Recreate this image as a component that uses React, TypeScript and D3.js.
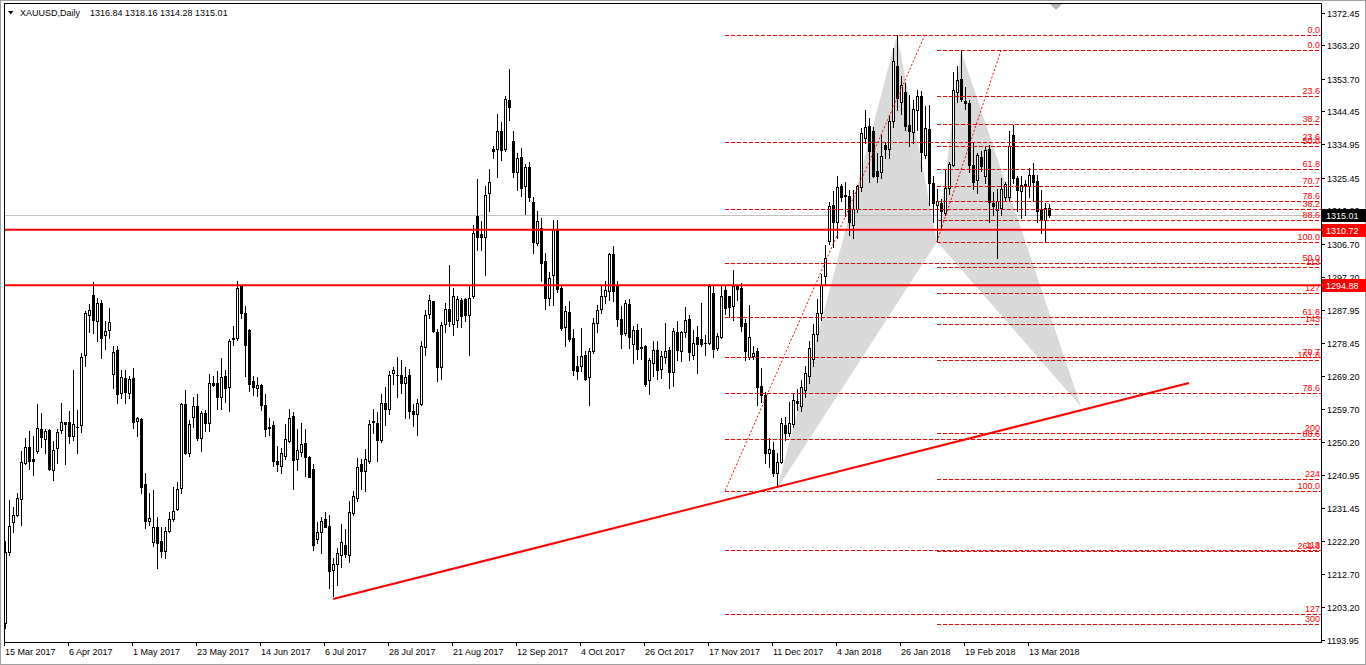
import React from "react";
import * as d3 from "d3";

// ---------- data ----------
const opens = [
1198.7,1219.1,1227.5,1229.4,1234.0,1244.3,1248.8,1245.5,1247.8,1253.9,1251.1,1253.7,1242.4,1248.5,1253.8,1255.9,1256.1,1252.0,1254.7,1255.1,
1275.0,1286.3,1292.2,1284.6,1289.8,1280.7,1282.1,1269.6,1276.5,1264.2,1268.5,1264.2,1268.5,1256.4,1256.8,1238.3,1227.9,1221.7,1226.2,1222.1,
1219.3,1225.1,1228.3,1231.2,1237.1,1261.1,1247.1,1257.4,1260.6,1251.4,1258.5,1255.6,1267.0,1267.0,1263.0,1269.1,1265.9,1279.8,1279.8,1294.8,
1287.0,1282.2,1267.6,1265.6,1266.5,1260.9,1254.7,1255.0,1244.8,1243.6,1246.2,1250.6,1257.8,1245.4,1247.5,1250.0,1245.9,1242.6,1222.6,1224.8,
1228.3,1226.5,1213.9,1215.5,1218.1,1221.1,1218.1,1230.0,1234.3,1244.1,1241.9,1244.9,1256.0,1255.8,1250.8,1261.4,1259.7,1269.8,1269.5,1269.4,
1267.1,1269.3,1259.2,1258.2,1261.2,1277.3,1286.6,1290.4,1281.7,1271.6,1284.0,1288.1,1284.0,1285.0,1290.7,1290.9,1286.5,1291.9,1314.6,1309.4,
1308.7,1321.1,1333.7,1333.7,1338.7,1333.7,1347.6,1335.9,1327.1,1331.3,1323.1,1328.5,1318.6,1306.9,1311.2,1301.7,1291.2,1297.9,1310.5,1294.1,
1282.9,1287.2,1279.9,1272.0,1271.8,1275.1,1268.7,1276.2,1284.1,1288.1,1291.9,1293.4,1303.7,1295.0,1285.2,1281.2,1289.5,1278.2,1282.2,1277.3,
1277.5,1267.8,1272.9,1276.5,1271.0,1274.6,1276.5,1270.1,1281.7,1276.2,1281.7,1285.2,1275.0,1280.1,1279.6,1278.4,1278.4,1292.7,1277.0,1280.3,
1293.6,1291.7,1289.0,1294.6,1294.1,1284.1,1274.4,1274.7,1276.2,1266.3,1263.7,1247.1,1247.9,1241.4,1244.7,1255.2,1252.8,1255.4,1262.0,1260.5,
1265.0,1269.0,1274.0,1281.0,1287.0,1297.5,1307.6,1317.8,1313.0,1323.0,1320.5,1320.4,1312.1,1316.5,1322.8,1336.8,1340.3,1338.7,1327.3,1327.0,
1334.8,1333.6,1341.5,1357.4,1347.0,1350.0,1340.6,1338.4,1344.8,1348.8,1332.0,1339.4,1324.1,1317.8,1318.3,1315.4,1322.5,1329.2,1349.8,1353.6,
1347.4,1346.9,1329.2,1324.9,1331.5,1326.0,1333.6,1318.3,1316.4,1316.8,1320.1,1320.0,1337.7,1325.4,1321.6,1323.8,1323.0,1326.3,1324.7,1316.7,
1313.5,1316.84];
const highs = [
1222.0,1233.8,1231.7,1235.7,1247.6,1251.4,1253.4,1252.0,1261.1,1258.5,1254.0,1254.0,1250.6,1254.0,1261.3,1256.1,1259.0,1270.8,1259.4,1275.6,
1287.7,1289.6,1295.7,1291.2,1290.8,1284.6,1288.4,1277.5,1277.7,1270.8,1270.8,1269.1,1271.3,1257.4,1257.0,1241.4,1235.7,1236.7,1228.9,1226.2,
1226.2,1230.5,1237.6,1239.0,1261.5,1265.1,1256.6,1263.0,1263.9,1259.2,1259.4,1269.6,1269.1,1270.4,1274.2,1270.8,1279.7,1283.4,1296.2,1295.0,
1288.9,1282.5,1269.1,1268.7,1266.8,1264.0,1257.2,1256.2,1249.1,1248.5,1255.5,1259.7,1258.7,1254.0,1255.8,1254.1,1246.4,1243.9,1227.6,1229.0,
1230.5,1229.5,1217.2,1220.1,1227.0,1225.6,1233.5,1236.4,1245.6,1245.4,1248.3,1256.5,1259.7,1258.7,1263.9,1265.9,1270.6,1271.6,1274.6,1273.6,
1271.6,1271.1,1261.2,1262.4,1279.0,1287.9,1292.1,1290.4,1282.5,1284.5,1289.9,1300.8,1294.1,1291.9,1291.4,1291.4,1294.7,1311.9,1325.2,1313.2,
1323.1,1328.0,1334.5,1343.6,1341.4,1348.8,1356.5,1338.9,1332.5,1334.0,1329.5,1330.0,1320.1,1316.0,1314.0,1304.0,1298.8,1313.5,1313.5,1295.0,
1289.0,1290.5,1282.4,1274.8,1282.7,1276.3,1277.0,1285.5,1289.3,1294.6,1296.0,1304.2,1306.1,1296.0,1289.0,1290.8,1290.9,1283.3,1283.9,1282.7,
1277.9,1274.1,1278.9,1278.9,1276.3,1284.1,1277.3,1282.7,1284.6,1282.0,1288.7,1286.5,1282.2,1283.2,1289.8,1280.8,1295.2,1294.6,1281.3,1294.7,
1294.6,1291.9,1299.3,1295.0,1295.5,1285.2,1289.3,1277.5,1277.0,1271.3,1264.4,1251.4,1250.4,1247.1,1257.1,1257.5,1261.8,1264.2,1265.3,1268.0,
1272.0,1279.0,1284.0,1291.0,1298.0,1306.4,1318.7,1321.6,1326.0,1323.8,1324.4,1322.1,1321.9,1323.5,1339.6,1344.8,1342.5,1339.9,1332.5,1337.7,
1335.8,1343.4,1362.4,1366.2,1354.3,1352.4,1349.1,1347.7,1350.5,1350.1,1346.0,1346.3,1325.9,1322.2,1319.4,1327.8,1330.1,1355.7,1357.4,1361.7,
1351.3,1347.5,1335.8,1332.5,1333.0,1334.6,1334.9,1321.3,1322.2,1325.4,1324.4,1338.7,1340.6,1325.9,1326.0,1324.9,1328.2,1329.6,1326.3,1322.1,
1318.3,1318.16];
const lows = [
1197.3,1218.2,1224.6,1229.1,1226.7,1244.0,1242.6,1241.0,1247.3,1249.0,1247.3,1242.2,1239.5,1244.4,1252.8,1244.0,1250.0,1250.9,1247.1,1253.0,
1271.8,1281.7,1281.3,1278.9,1274.2,1276.7,1280.0,1265.6,1261.5,1262.8,1261.3,1262.8,1254.2,1252.1,1235.9,1225.8,1226.7,1220.7,1214.4,1217.7,
1217.2,1224.6,1227.9,1230.8,1235.7,1246.8,1246.3,1254.7,1250.9,1247.8,1253.3,1253.3,1266.3,1259.6,1259.6,1261.8,1259.0,1277.9,1279.4,1285.5,
1269.1,1264.7,1263.7,1263.5,1259.4,1251.9,1252.3,1243.6,1242.1,1241.6,1245.4,1250.3,1236.9,1242.4,1246.4,1240.7,1240.2,1219.6,1221.6,1218.6,
1226.0,1208.7,1206.5,1209.7,1214.7,1217.6,1216.2,1229.5,1233.5,1236.9,1236.4,1244.4,1252.8,1244.9,1250.3,1255.2,1258.2,1266.7,1263.2,1264.2,
1257.2,1257.2,1254.8,1252.3,1260.7,1275.1,1285.5,1281.5,1267.6,1268.1,1281.5,1283.2,1280.8,1283.0,1283.0,1284.8,1275.1,1291.4,1304.8,1304.8,
1297.8,1315.9,1331.0,1325.6,1330.5,1333.0,1341.9,1325.8,1322.1,1320.3,1315.2,1318.8,1304.2,1306.4,1296.0,1288.1,1289.3,1289.3,1293.1,1282.2,
1277.7,1278.9,1269.4,1268.2,1270.5,1268.0,1260.8,1275.6,1281.5,1287.0,1289.8,1290.8,1290.3,1283.2,1277.0,1280.8,1277.0,1272.7,1273.9,1273.9,
1266.1,1263.9,1269.0,1268.2,1268.4,1272.7,1265.6,1266.1,1273.7,1273.2,1280.3,1273.7,1273.9,1269.9,1277.7,1275.1,1278.2,1274.4,1276.5,1279.8,
1286.8,1285.8,1285.1,1290.8,1282.0,1273.7,1273.9,1273.8,1260.9,1261.8,1244.3,1243.1,1240.6,1237.6,1244.2,1250.9,1252.0,1254.7,1259.4,1259.0,
1263.0,1267.0,1272.0,1279.0,1285.0,1295.0,1306.5,1305.9,1308.3,1319.0,1314.5,1309.2,1308.3,1315.6,1321.6,1335.5,1324.4,1325.7,1324.4,1325.5,
1331.1,1331.1,1340.0,1344.8,1343.5,1339.1,1334.4,1335.3,1339.1,1327.3,1331.0,1317.8,1313.0,1307.3,1310.7,1315.0,1321.0,1328.7,1347.0,1347.2,
1345.0,1327.0,1322.2,1321.1,1327.3,1324.0,1313.0,1315.0,1302.6,1315.0,1319.0,1319.0,1324.0,1316.0,1314.0,1314.9,1320.0,1319.0,1313.0,1309.7,
1307.4,1314.28];
const closes = [
1219.1,1226.5,1229.4,1234.3,1244.5,1249.0,1245.0,1245.0,1254.2,1251.6,1253.4,1242.6,1248.0,1253.1,1256.1,1255.4,1252.0,1255.5,1254.5,1274.6,
1287.0,1287.9,1284.9,1289.8,1280.0,1281.8,1284.4,1276.0,1263.9,1268.9,1264.5,1268.3,1256.1,1257.2,1237.4,1227.7,1228.6,1226.2,1221.5,1219.3,
1225.0,1228.3,1230.7,1236.9,1261.1,1247.1,1255.5,1260.6,1251.4,1258.5,1255.6,1267.0,1266.6,1263.0,1268.7,1265.7,1278.9,1279.6,1294.1,1287.0,
1278.0,1266.7,1265.9,1266.6,1260.9,1253.9,1254.3,1244.9,1243.9,1247.3,1251.1,1257.2,1245.2,1247.9,1249.8,1245.9,1240.4,1221.1,1224.6,1227.8,
1226.2,1213.7,1215.7,1218.8,1221.8,1218.4,1230.3,1235.0,1243.2,1241.9,1245.4,1255.5,1256.3,1250.8,1261.5,1259.7,1269.3,1270.8,1269.4,1267.1,
1268.9,1259.2,1258.2,1261.5,1277.5,1286.5,1290.7,1281.8,1271.6,1283.5,1288.1,1284.8,1291.9,1291.1,1286.2,1286.5,1291.4,1309.7,1308.7,1308.5,
1320.6,1324.3,1333.0,1338.7,1333.3,1347.8,1345.6,1327.1,1331.2,1322.6,1328.5,1320.1,1307.2,1313.1,1301.2,1291.4,1296.9,1310.7,1293.8,1282.7,
1287.6,1279.6,1270.8,1270.6,1274.8,1268.2,1276.3,1284.1,1287.9,1291.9,1293.6,1303.7,1293.4,1285.2,1281.0,1289.8,1280.3,1282.2,1276.7,1277.0,
1266.8,1273.7,1276.5,1270.8,1274.8,1276.2,1270.3,1281.9,1276.5,1281.5,1285.1,1275.8,1278.6,1278.1,1278.1,1278.5,1294.6,1276.7,1280.5,1291.9,
1288.4,1288.7,1294.6,1293.8,1283.4,1276.3,1280.1,1275.6,1265.9,1263.7,1247.1,1248.2,1241.4,1244.5,1255.6,1252.8,1255.6,1262.3,1261.5,1266.0,
1270.0,1277.0,1281.0,1287.0,1295.0,1302.6,1317.5,1313.0,1322.8,1320.0,1320.2,1312.8,1316.5,1323.0,1338.2,1339.9,1333.0,1325.9,1326.0,1331.7,
1333.6,1341.5,1358.6,1348.2,1351.9,1340.1,1338.7,1345.0,1348.8,1332.7,1339.6,1324.1,1318.3,1318.8,1315.9,1322.5,1329.4,1350.5,1353.4,1347.9,
1346.7,1329.2,1324.4,1332.0,1328.7,1333.4,1318.5,1317.5,1319.0,1322.2,1323.8,1334.4,1325.4,1321.9,1323.5,1323.0,1326.3,1324.4,1315.9,1313.5,
1316.9,1315.01];

const priceTicks = [1372.45,1363.2,1353.7,1344.45,1334.95,1325.45,1316.2,1306.7,1297.2,1287.95,1278.45,1269.2,1259.7,1250.2,1240.95,1231.45,1222.2,1212.7,1203.2,1193.95];
const dateLabels = ["15 Mar 2017","6 Apr 2017","1 May 2017","23 May 2017","14 Jun 2017","6 Jul 2017","28 Jul 2017","21 Aug 2017","12 Sep 2017","4 Oct 2017","26 Oct 2017","17 Nov 2017","11 Dec 2017","4 Jan 2018","26 Jan 2018","19 Feb 2018","13 Mar 2018"];
const dateLabelBars = [0,16,32,48,64,80,96,112,128,144,160,176,192,208,224,240,256];

const levelPrices = [1310.72, 1294.88];
const bidPrice = 1315.01;
const trendBars = [82, 296];
const trendPrices = [1205.6, 1267.1];
// harmonic pattern X A B C D
const patternBars = [193, 223, 233, 239, 269];
const patternPrices = [1236.9, 1366.2, 1307.3, 1361.7, 1260.3];

const fibLeftBars = [180, 230];
const fibLeftPrices = [1236.4, 1366.2];
const fibLeftLevels = [0, 23.6, 38.2, 50, 61.8, 70.7, 78.6, 88.6, 100, 113, 127];
const fibRightBars = [233, 249];
const fibRightPrices = [1307.3, 1361.7];
const fibRightLevels = [0, 23.6, 38.2, 50, 61.8, 70.7, 78.6, 88.6, 100, 113, 127, 143, 161.8, 200, 224, 261.8, 300];

// ---------- layout ----------
const W = 1366, H = 665;
const L = 4, R = 1321, T = 3, B = 642;
const FONT = "'Liberation Sans', Arial, sans-serif";
const RED = "#ff0000";

const x = d3.scaleLinear().domain([0, 329]).range([5, 5 + 4 * 329]);
const y = d3.scaleLinear().domain([1193.38, 1374.93]).range([B, 4]);
const py = (p: number) => Math.round(y(p));

function fibLabel(l: number) {
  if (l === 0 || l === 50 || l === 100) return l.toFixed(1);
  return String(l);
}

function FibSet({ bars, prices, levels, keyp }: any) {
  const x0 = Math.round(x(bars[0]));
  const pFrom = prices[0], pTo = prices[1];
  return (
    <g>
      <line x1={x(bars[0])} y1={y(pFrom)} x2={x(bars[1])} y2={y(pTo)} stroke={RED} strokeWidth={1} strokeDasharray="2,2" />
      {levels.map((lv: number) => {
        const p = pTo + (pFrom - pTo) * lv / 100;
        const yy = py(p) + 0.5;
        return (
          <g key={keyp + lv}>
            <line x1={x0} x2={R} y1={yy} y2={yy} stroke={RED} strokeWidth={1} strokeDasharray="4,2" />
            <text x={1320} y={yy - 2.5} textAnchor="end" fontSize={9} fontFamily={FONT} fill={RED}>{fibLabel(lv)}</text>
          </g>
        );
      })}
    </g>
  );
}

export default function App() {
  const pts = patternBars.map((b, i) => [x(b), y(patternPrices[i])]);
  const tri1 = [pts[0], pts[1], pts[2]].map(p => p.join(",")).join(" ");
  const tri2 = [pts[2], pts[3], pts[4]].map(p => p.join(",")).join(" ");
  const bidY = py(bidPrice) + 0.5;

  return (
    <svg width={W} height={H} style={{ position: "absolute", left: 0, top: 0, background: "#fff" }}>
      <rect x={0} y={0} width={W} height={H} fill="#fff" />
      <defs>
        <clipPath id="plot"><rect x={L + 1} y={T + 1} width={R - L - 1} height={B - T - 1} /></clipPath>
      </defs>
      <g clipPath="url(#plot)">
        <polygon points={tri1} fill="#d9d9d9" />
        <polygon points={tri2} fill="#d9d9d9" />
        <line x1={L} x2={R} y1={bidY} y2={bidY} stroke="#c0c0c0" strokeWidth={1} />
        {opens.map((o, i) => {
          const cx = Math.round(x(i));
          const c = closes[i];
          const top = py(Math.max(o, c));
          const bot = py(Math.min(o, c));
          const bull = c >= o;
          return (
            <g key={i}>
              <line x1={cx + 0.5} x2={cx + 0.5} y1={py(highs[i])} y2={py(lows[i]) + 1} stroke="#000" strokeWidth={1} />
              {bot - top >= 1 ? (
                <rect x={cx - 0.5} y={top + 0.5} width={2} height={bot - top} fill={bull ? "#fff" : "#000"} stroke="#000" strokeWidth={1} />
              ) : (
                <line x1={cx - 1} x2={cx + 2} y1={top + 0.5} y2={top + 0.5} stroke="#000" strokeWidth={1} />
              )}
            </g>
          );
        })}
        <FibSet bars={fibLeftBars} prices={fibLeftPrices} levels={fibLeftLevels} keyp="l" />
        <FibSet bars={fibRightBars} prices={fibRightPrices} levels={fibRightLevels} keyp="r" />
        {levelPrices.map(p => (
          <line key={p} x1={L} x2={R} y1={y(p)} y2={y(p)} stroke={RED} strokeWidth={2} />
        ))}
        <line x1={x(trendBars[0])} y1={y(trendPrices[0])} x2={x(trendBars[1])} y2={y(trendPrices[1])} stroke={RED} strokeWidth={2} />
        <polygon points="1050,4 1062,4 1056,10" fill="#b4b4b4" />
      </g>

      {/* frames */}
      <rect x={0.5} y={0.5} width={W - 1} height={H - 1} fill="none" stroke="#a0a0a0" />
      <rect x={L + 0.5} y={T + 0.5} width={R - L} height={B - T} fill="none" stroke="#000" />

      {/* header */}
      <polygon points="8,11 13.5,11 10.75,14.5" fill="#000" />
      <text x={20} y={16} fontSize={9} fontFamily={FONT} fill="#000">XAUUSD,Daily</text>
      <text x={90} y={16} fontSize={9} fontFamily={FONT} fill="#000">1316.84 1318.16 1314.28 1315.01</text>

      {/* price axis */}
      {priceTicks.map(t => {
        const yy = py(t) + 0.5;
        return (
          <g key={t}>
            <line x1={R + 1} x2={R + 4} y1={yy} y2={yy} stroke="#000" />
            <text x={1327} y={yy + 3} fontSize={9} fontFamily={FONT} fill="#000">{t.toFixed(2)}</text>
          </g>
        );
      })}
      {levelPrices.map(p => {
        const yy = py(p);
        return (
          <g key={"b" + p}>
            <rect x={R + 1} y={yy - 6} width={44} height={13} fill={RED} />
            <text x={1326} y={yy + 3.5} fontSize={9} fontFamily={FONT} fill="#fff">{p.toFixed(2)}</text>
          </g>
        );
      })}
      <rect x={R + 1} y={bidY - 6.5} width={44} height={13} fill="#000" />
      <text x={1326} y={bidY + 3} fontSize={9} fontFamily={FONT} fill="#fff">{bidPrice.toFixed(2)}</text>

      {/* time axis */}
      {dateLabelBars.map((b, i) => {
        const xx = Math.round(x(b)) - 1;
        return (
          <g key={b}>
            <line x1={xx + 0.5} x2={xx + 0.5} y1={B} y2={B + 4} stroke="#000" />
            <text x={xx + 1} y={655} fontSize={9} fontFamily={FONT} fill="#000">{dateLabels[i]}</text>
          </g>
        );
      })}
    </svg>
  );
}
